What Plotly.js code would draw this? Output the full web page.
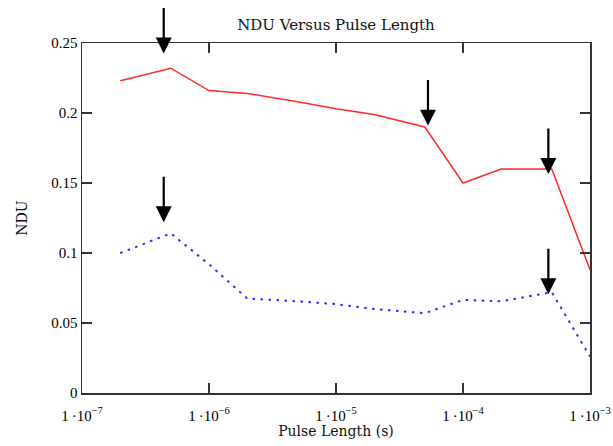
<!DOCTYPE html>
<html>
<head>
<meta charset="utf-8">
<script src="https://cdn.plot.ly/plotly-3.0.1.min.js"></script>
<style>html,body{margin:0;padding:0;background:#fff;}#chart{width:613px;height:446px;}</style>
</head>
<body>
<div id="chart"></div>
<script>
// Pulse lengths (s)
const pulseLength = [2e-7, 5e-7, 1e-6, 2e-6, 5e-6, 1e-5, 2e-5, 5e-5, 1e-4, 2e-4, 5e-4, 1e-3];
// NDU, upper (red, solid) series
const nduRed  = [0.223, 0.232, 0.216, 0.214, 0.208, 0.203, 0.199, 0.190, 0.150, 0.160, 0.160, 0.088];
// NDU, lower (blue, dotted) series
const nduBlue = [0.100, 0.114, 0.092, 0.0675, 0.0655, 0.0635, 0.060, 0.057, 0.0665, 0.0655, 0.072, 0.026];

// Arrow markers: x position (s) and NDU value at the arrow tip
const arrowX   = [4.4e-7, 4.4e-7, 5.3e-5, 4.7e-4, 4.7e-4];
const arrowTip = [0.2425, 0.122, 0.191, 0.1565, 0.0705];

// Axis ticks
const xTickVals = [1e-7, 1e-6, 1e-5, 1e-4, 1e-3];
const xTickText = ['1\u2009·10<sup>\u22127</sup>', '1\u2009·10<sup>\u22126</sup>', '1\u2009·10<sup>\u22125</sup>', '1\u2009·10<sup>\u22124</sup>', '1\u2009·10<sup>\u22123</sup>'];
const yTickVals = [0, 0.05, 0.1, 0.15, 0.2, 0.25];
const yTickText = ['0', '0.05', '0.1', '0.15', '0.2', '0.25'];

const font = 'Liberation Serif, Times New Roman, serif';
const titleFont = 'DejaVu Serif, serif';

const traces = [
  {x: pulseLength, y: nduRed, type: 'scatter', mode: 'lines',
   line: {color: '#ff2a2a', width: 1.5}, hoverinfo: 'skip'},
  {x: pulseLength, y: nduBlue, type: 'scatter', mode: 'lines',
   line: {color: '#2a2aff', width: 2, dash: '2.5px,5.5px'}, hoverinfo: 'skip'}
];

const annotations = arrowX.map((xv, i) => ({
  xref: 'x', yref: 'y', x: Math.log10(xv), y: arrowTip[i],
  ax: 0, ay: -47, axref: 'pixel', ayref: 'pixel',
  text: '', showarrow: true, arrowhead: 2, arrowsize: 1.45, arrowwidth: 2.2,
  arrowcolor: '#000', standoff: 0
}));

const layout = {
  width: 613, height: 446,
  margin: {l: 82, r: 23, t: 43, b: 53},
  paper_bgcolor: '#fff', plot_bgcolor: '#fff',
  showlegend: false,
  font: {family: font, size: 14, color: '#000'},
  title: {text: 'NDU Versus Pulse Length', font: {family: titleFont, size: 15, color: '#111'},
          x: 0.5, xanchor: 'center', xref: 'paper', y: 0.945, yref: 'container', yanchor: 'middle'},
  xaxis: {
    type: 'log', range: [-7, -3], tickmode: 'array', tickvals: xTickVals, ticktext: xTickText,
    ticks: 'inside', ticklen: 10, tickwidth: 1.5, tickcolor: '#333',
    showline: true, linecolor: '#333', linewidth: 1.5, mirror: 'ticks',
    showgrid: false, zeroline: false, ticklabelstandoff: 8,
    tickfont: {family: font, size: 15, color: '#000'},
    title: {text: 'Pulse Length (s)', font: {family: titleFont, size: 14, color: '#111'}, standoff: 0}
  },
  yaxis: {
    range: [0, 0.25], tickmode: 'array', tickvals: yTickVals, ticktext: yTickText,
    ticks: 'inside', ticklen: 10, tickwidth: 1.5, tickcolor: '#333',
    showline: true, linecolor: '#333', linewidth: 1.5, mirror: 'ticks',
    showgrid: false, zeroline: false,
    tickfont: {family: font, size: 15, color: '#000'},
    title: {text: 'NDU', font: {family: titleFont, size: 14, color: '#111'}, standoff: 20}
  },
  annotations: annotations
};

Plotly.newPlot('chart', traces, layout, {staticPlot: true, displayModeBar: false});
</script>
</body>
</html>
